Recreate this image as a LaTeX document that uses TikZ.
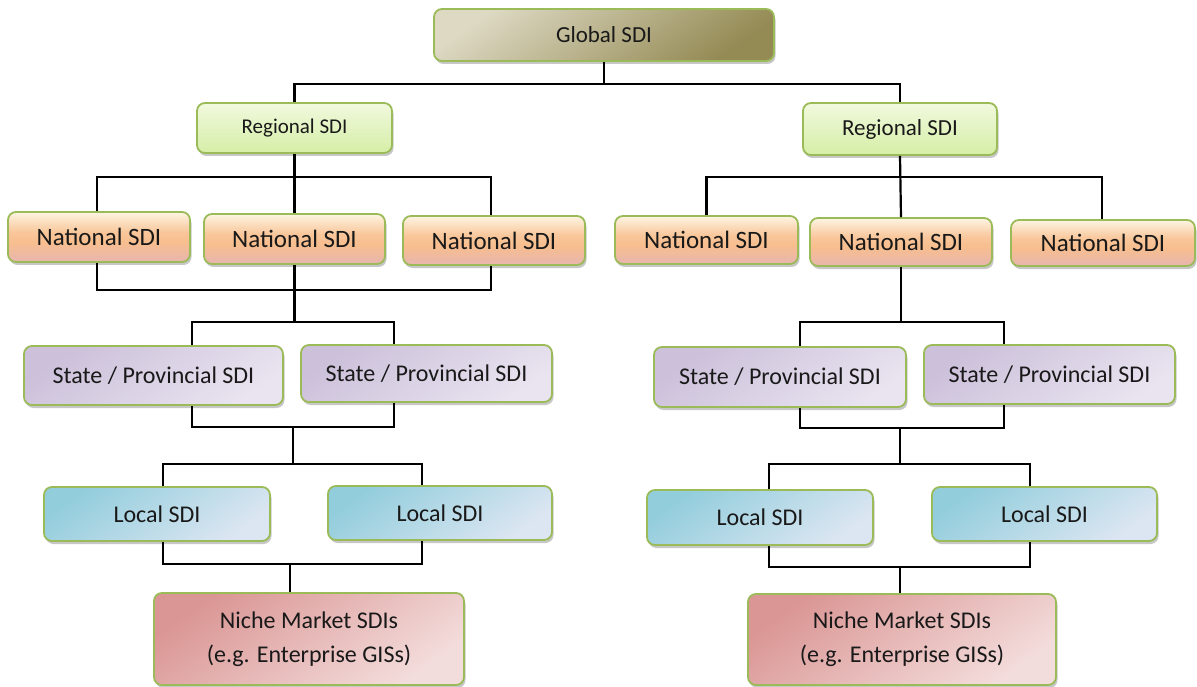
\documentclass[tikz,border=0pt]{standalone}
\usepackage{fontspec}
\setmainfont{Carlito}
\usetikzlibrary{shadows}

\definecolor{edgegreen}{HTML}{9BBB59}
\definecolor{globA}{HTML}{DDD9C3}
\definecolor{globB}{HTML}{948A54}
\definecolor{regTop}{HTML}{F1F9DE}
\definecolor{regBot}{HTML}{D5EEA6}
\definecolor{natTop}{HTML}{FDF5E2}
\definecolor{natMid}{HTML}{F8BE8E}
\definecolor{natBot}{HTML}{E7B6AF}
\definecolor{stA}{HTML}{CCC0DA}
\definecolor{stB}{HTML}{E9E4F0}
\definecolor{locA}{HTML}{92CDDC}
\definecolor{locB}{HTML}{DCE6F2}
\definecolor{nicA}{HTML}{DA9694}
\definecolor{nicB}{HTML}{F3DDDC}

% cream at the top, orange a little below the middle, rose at the bottom
\pgfdeclareverticalshading{natshade}{100bp}{%
  color(0bp)=(natBot); color(25bp)=(natBot); color(45bp)=(natMid);
  color(55bp)=(natMid!85!natTop); color(75bp)=(natTop); color(100bp)=(natTop)}

\tikzset{
  box/.style={draw=edgegreen, line width=1.8pt, rounded corners=8pt,
    align=center, inner sep=0pt, text=black!90,
    font=\fontsize{24}{34}\selectfont,
    drop shadow={shadow xshift=1.5pt, shadow yshift=-3pt, opacity=0.22, fill=black}},
  globalbox/.style={box, top color=globA, bottom color=globB, shading angle=35},
  regionbox/.style={box, top color=regTop, bottom color=regBot},
  nationbox/.style={box, shading=natshade, font=\fontsize{25}{30}\selectfont},
  statebox/.style={box, top color=stA, bottom color=stB, shading angle=35},
  localbox/.style={box, top color=locA, bottom color=locB, shading angle=35},
  nichebox/.style={box, top color=nicA, bottom color=nicB, shading angle=35},
  link/.style={line width=2.2pt, draw=black}
}

\begin{document}
\begin{tikzpicture}[x=1pt, y=-1pt]
\useasboundingbox (0,0) rectangle (1197,687);

% top level
\node[globalbox, minimum width=340pt, minimum height=52pt, font=\fontsize{23}{28}\selectfont] (glob) at (604,35) {Global SDI};

% regional level
\node[regionbox, minimum width=195pt, minimum height=50pt, font=\fontsize{21}{26}\selectfont] (regL) at (294.5,128) {Regional SDI};
\node[regionbox, minimum width=194pt, minimum height=52pt, font=\fontsize{23}{28}\selectfont] (regR) at (900,129) {Regional SDI};

% national level
\node[nationbox, minimum width=182pt, minimum height=50pt] (n1) at (99,237) {National SDI};
\node[nationbox, minimum width=181pt, minimum height=50pt] (n2) at (294.5,239) {National SDI};
\node[nationbox, minimum width=182pt, minimum height=49pt] (n3) at (494,240.5) {National SDI};
\node[nationbox, minimum width=183pt, minimum height=48pt] (n4) at (706.5,240) {National SDI};
\node[nationbox, minimum width=182pt, minimum height=48pt] (n5) at (901,242) {National SDI};
\node[nationbox, minimum width=184pt, minimum height=46pt] (n6) at (1103,243) {National SDI};

% state / provincial level
\node[statebox, minimum width=259pt, minimum height=59pt] (s1) at (153.5,375.5) {State / Provincial SDI};
\node[statebox, minimum width=251pt, minimum height=57pt] (s2) at (426.5,373.5) {State / Provincial SDI};
\node[statebox, minimum width=252pt, minimum height=60pt] (s3) at (780,377) {State / Provincial SDI};
\node[statebox, minimum width=251pt, minimum height=59pt] (s4) at (1049.5,374.5) {State / Provincial SDI};

% local level
\node[localbox, minimum width=226pt, minimum height=54pt] (l1) at (157,514) {Local SDI};
\node[localbox, minimum width=224pt, minimum height=54pt] (l2) at (440,513) {Local SDI};
\node[localbox, minimum width=226pt, minimum height=55pt] (l3) at (760,517.5) {Local SDI};
\node[localbox, minimum width=225pt, minimum height=54pt] (l4) at (1044.5,514) {Local SDI};

% niche market level
\node[nichebox, minimum width=310pt, minimum height=92pt] (m1) at (309,639) {Niche Market SDIs\\(e.g. Enterprise GISs)};
\node[nichebox, minimum width=308pt, minimum height=91pt] (m2) at (902,639.5) {Niche Market SDIs\\(e.g. Enterprise GISs)};

% junction points of the connector buses
\coordinate (jTop) at (604,84);
\coordinate (jA) at (294.5,177);
\coordinate (jB) at (900,177);
\coordinate (jC) at (294.5,290);
\coordinate (jD) at (294.5,322);
\coordinate (jE) at (293,427);
\coordinate (jF) at (293,464);
\coordinate (jG) at (290,564);
\coordinate (jH) at (901,322);
\coordinate (jI) at (900,428);
\coordinate (jJ) at (900,464);
\coordinate (jK) at (900,567);

% global -> regional
\draw[link] (glob.south) -- (jTop);
\draw[link] (regL.north) |- (jTop) -| (regR.north);

% regional -> national
\draw[link] (regL.south) -- (n2.north);
\draw[link] ([xshift=-2pt]n1.north) |- (jA) -| ([xshift=-3pt]n3.north);
\draw[link] (regR.south) -- (n5.north);
\draw[link] (n4.north) |- (jB) -| ([xshift=-1pt]n6.north);

% national -> state (left)
\draw[link] ([xshift=-2pt]n1.south) |- (jC) -| ([xshift=-3pt]n3.south);
\draw[link] (n2.south) -- (jD);
\draw[link] ([xshift=38.5pt]s1.north) |- (jD) -| ([xshift=-32.5pt]s2.north);

% national -> state (right)
\draw[link] (n5.south) -- (jH);
\draw[link] ([xshift=20pt]s3.north) |- (jH) -| ([xshift=-45.5pt]s4.north);

% state -> local (left)
\draw[link] ([xshift=38.5pt]s1.south) |- (jE) -| ([xshift=-32.5pt]s2.south);
\draw[link] (jE) -- (jF);
\draw[link] ([xshift=6pt]l1.north) |- (jF) -| ([xshift=-18pt]l2.north);

% state -> local (right)
\draw[link] ([xshift=20pt]s3.south) |- (jI) -| ([xshift=-45.5pt]s4.south);
\draw[link] (jI) -- (jJ);
\draw[link] ([xshift=9pt]l3.north) |- (jJ) -| ([xshift=-14.5pt]l4.north);

% local -> niche market
\draw[link] ([xshift=6pt]l1.south) |- (jG) -| ([xshift=-18pt]l2.south);
\draw[link] (jG) -- ([xshift=-19pt]m1.north);
\draw[link] ([xshift=9pt]l3.south) |- (jK) -| ([xshift=-14.5pt]l4.south);
\draw[link] (jK) -- ([xshift=-2pt]m2.north);
\end{tikzpicture}
\end{document}
